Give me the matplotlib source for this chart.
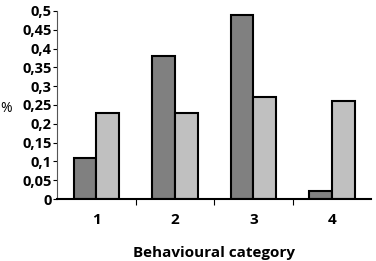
import numpy as np
import matplotlib.pyplot as plt

categories = ['1', '2', '3', '4']
series_dark = [0.11, 0.38, 0.49, 0.02]
series_light = [0.23, 0.23, 0.27, 0.26]
yticks = [0, 0.05, 0.1, 0.15, 0.2, 0.25, 0.3, 0.35, 0.4, 0.45, 0.5]
ytick_labels = ['0', '0,05', '0,1', '0,15', '0,2', '0,25', '0,3', '0,35', '0,4', '0,45', '0,5']

plt.rcParams['font.family'] = ['Open Sans', 'DejaVu Sans']

fig = plt.figure(figsize=(3.76, 2.61), dpi=100)
ax = fig.add_axes([0.152, 0.2375, 0.835, 0.7205])

x = np.arange(len(categories))
w = 0.29
ax.bar(x - w / 2, series_dark, w, color='#808080', edgecolor='black', linewidth=1.5)
ax.bar(x + w / 2, series_light, w, color='#c0c0c0', edgecolor='black', linewidth=1.5)

ax.set_xlim(-0.5, len(categories) - 0.5)
ax.set_ylim(0, 0.5)
ax.set_yticks(yticks)
ax.set_yticklabels(ytick_labels, fontsize=10.5, fontweight='bold')
ax.set_xticks(x)
ax.set_xticklabels(categories, fontsize=11, fontweight='bold')
ax.tick_params(axis='x', length=0, pad=10)
ax.set_xticks(np.arange(0.5, len(categories) - 0.5, 1), minor=True)
ax.tick_params(axis='x', which='minor', length=4, width=0.8)
ax.tick_params(axis='y', length=3, width=0.8, pad=1)

ax.spines['top'].set_visible(False)
ax.spines['right'].set_visible(False)
ax.spines['bottom'].set_linewidth(1.5)
ax.spines['left'].set_linewidth(0.8)
ax.spines['left'].set_color('#555555')

ax.set_ylabel('%', rotation=0, fontsize=10, ha='left')
ax.yaxis.set_label_coords(-0.181, 0.44)
ax.set_xlabel('Behavioural category', fontsize=11, fontweight='bold', labelpad=14)

fig.savefig('out.png', dpi=100)
